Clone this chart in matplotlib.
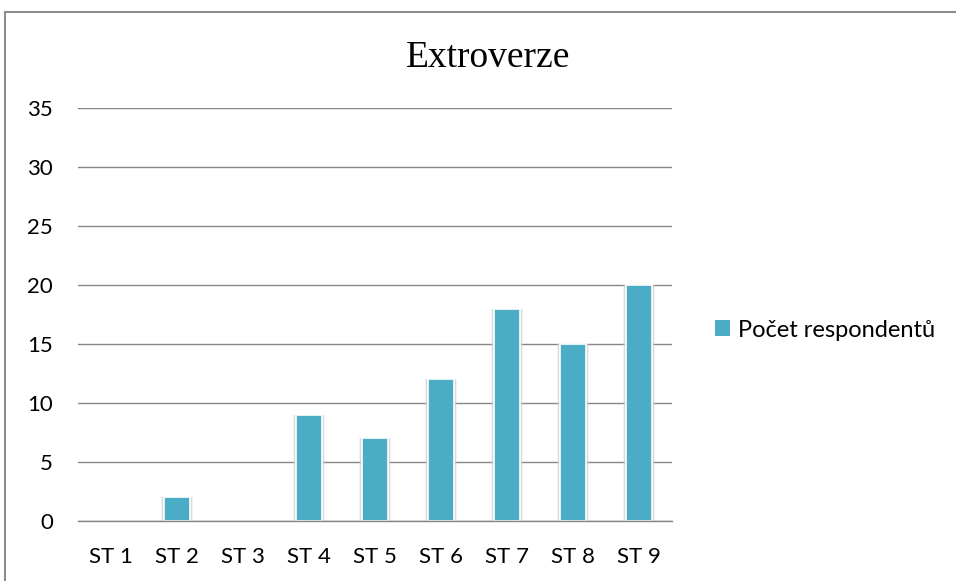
import matplotlib
matplotlib.use('Agg')
import matplotlib.pyplot as plt
from matplotlib.patches import Rectangle
import numpy as np

categories = ['ST 1', 'ST 2', 'ST 3', 'ST 4', 'ST 5', 'ST 6', 'ST 7', 'ST 8', 'ST 9']
respondents = [0, 2, 0, 9, 7, 12, 18, 15, 20]
y_ticks = [0, 5, 10, 15, 20, 25, 30, 35]
series_name = 'Počet respondentů'
title = 'Extroverze'

bar_color = '#4BACC6'
grid_color = '#868686'

fig = plt.figure(figsize=(9.56, 5.81), dpi=100)
ax = fig.add_axes([0.0816, 0.1033, 0.6213, 0.7108])

x = np.arange(len(categories))
vals = np.array(respondents)
edge_w = np.where(vals > 0, 1.2, 0)
# soft shadow around the bars (two layers to fake a glow)
ax.bar(x, vals, width=0.49, color='#d8d8d8', alpha=0.35, linewidth=0, zorder=2)
ax.bar(x, vals, width=0.455, color='#c4c4c4', alpha=0.45, linewidth=0, zorder=2)
bars = ax.bar(x, vals, width=0.40, color=bar_color, edgecolor='white',
              linewidth=edge_w, zorder=3, label=series_name)

ax.set_xlim(-0.5, len(categories) - 0.5)
ax.set_ylim(0, 35)
ax.set_yticks(y_ticks)
ax.set_xticks(x)
ax.set_xticklabels(categories)
ax.yaxis.grid(True, color=grid_color, linewidth=1.0)
ax.set_axisbelow(True)
for s in ['left', 'right', 'top']:
  ax.spines[s].set_visible(False)
ax.spines['bottom'].set_color(grid_color)
ax.spines['bottom'].set_linewidth(1.0)
ax.spines['bottom'].set_zorder(4)
ax.tick_params(axis='both', length=0, labelsize=16, colors='black')
ax.tick_params(axis='y', pad=18)
ax.tick_params(axis='x', pad=19)
for lab in ax.get_xticklabels() + ax.get_yticklabels():
  lab.set_family('Lato')

fig.text(0.511, 0.8847, title, ha='center', va='baseline', fontsize=27,
         family='Liberation Serif')

leg = fig.legend(handles=[bars], labels=[series_name], loc='center left',
                 bbox_to_anchor=(0.748, 0.432), frameon=False,
                 prop={'family': 'Lato', 'size': 17}, handlelength=0.65,
                 handleheight=0.65, handletextpad=0.3, borderpad=0,
                 borderaxespad=0)

# outer chart frame
fig.patches.append(Rectangle((5 / 956, -0.1), 1.2, 1.1 - 12 / 581,
                             transform=fig.transFigure, fill=False,
                             edgecolor='#8c8c8c', linewidth=1.5))

fig.savefig('out.png', dpi=100)
